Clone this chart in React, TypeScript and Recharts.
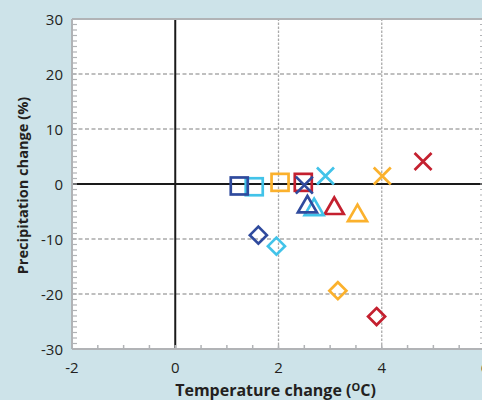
import { ScatterChart, Scatter, XAxis, YAxis, ReferenceArea, ReferenceLine, Label } from "recharts";

// axis ticks
const xMajor = [-2, 0, 2, 4, 6];
const yMajor = [-30, -20, -10, 0, 10, 20, 30];
const xMinor = Array.from({ length: 17 }, (_, i) => -2 + i * 0.5);
const yMinor = Array.from({ length: 61 }, (_, i) => -30 + i);
const xGrid = [2, 4];
const yGrid = [-20, -10, 10, 20];

// temperature change (oC) vs precipitation change (%)
const redPoints = [
  { temp: 2.48, precip: 0.3, kind: "square" },
  { temp: 4.8, precip: 4.1, kind: "cross" },
  { temp: 3.08, precip: -4.0, kind: "triangle" },
  { temp: 3.9, precip: -24.1, kind: "diamond" },
];
const orangePoints = [
  { temp: 2.03, precip: 0.3, kind: "square" },
  { temp: 4.01, precip: 1.45, kind: "cross" },
  { temp: 3.53, precip: -5.3, kind: "triangle" },
  { temp: 3.15, precip: -19.4, kind: "diamond" },
];
const cyanPoints = [
  { temp: 1.53, precip: -0.5, kind: "square" },
  { temp: 2.91, precip: 1.45, kind: "cross" },
  { temp: 2.69, precip: -4.2, kind: "triangle" },
  { temp: 1.96, precip: -11.3, kind: "diamond" },
];
const bluePoints = [
  { temp: 1.24, precip: -0.36, kind: "square" },
  { temp: 2.5, precip: -0.2, kind: "cross" },
  { temp: 2.56, precip: -3.7, kind: "triangle" },
  { temp: 1.61, precip: -9.3, kind: "diamond" },
];

const FONT = "'Open Sans', sans-serif";
const TEXT = "#231f20";
const FRAME = "#b1b3b6";
const GRID = "#aaaaaa";

const marker = (color: string) => (props: any) => {
  const { cx, cy, payload } = props;
  const sw = 2.7;
  if (payload.kind === "square") {
    return <rect x={cx - 8.5} y={cy - 8.5} width={17} height={17} fill="none" stroke={color} strokeWidth={sw} />;
  }
  if (payload.kind === "cross") {
    return (
      <path d={`M${cx - 8.5},${cy - 8.5}L${cx + 8.5},${cy + 8.5}M${cx - 8.5},${cy + 8.5}L${cx + 8.5},${cy - 8.5}`}
        stroke={color} strokeWidth={sw} fill="none" />
    );
  }
  if (payload.kind === "triangle") {
    return (
      <path d={`M${cx},${cy - 8.5}L${cx + 9.5},${cy + 8}L${cx - 9.5},${cy + 8}Z`}
        stroke={color} strokeWidth={sw} fill="none" strokeLinejoin="miter" />
    );
  }
  return (
    <path d={`M${cx},${cy - 8.5}L${cx + 8.5},${cy}L${cx},${cy + 8.5}L${cx - 8.5},${cy}Z`}
      stroke={color} strokeWidth={sw} fill="none" />
  );
};

function BottomTick(props: any) {
  const { x, y, payload } = props;
  const v = payload.value;
  return (
    <g>
      <line x1={x} y1={y} x2={x} y2={y - 4} stroke={FRAME} strokeWidth={1.5} />
      {xMajor.includes(v) && (
        <text x={x} y={y + 24} textAnchor="middle" fontSize={15} fill={TEXT} fontFamily={FONT}>{v}</text>
      )}
    </g>
  );
}

function TopTick(props: any) {
  const { x, y } = props;
  return <line x1={x} y1={y} x2={x} y2={y + 4} stroke={FRAME} strokeWidth={1.5} />;
}

function LeftTick(props: any) {
  const { x, y, payload } = props;
  const v = payload.value;
  return (
    <g>
      <line x1={x} y1={y} x2={x + 5} y2={y} stroke={FRAME} strokeWidth={1.2} />
      {yMajor.includes(v) && (
        <text x={x - 9} y={y + 5.5} textAnchor="end" fontSize={15} fill={TEXT} fontFamily={FONT}>{v}</text>
      )}
    </g>
  );
}

function RightTick(props: any) {
  const { x, y } = props;
  return <line x1={x} y1={y} x2={x - 5} y2={y} stroke={FRAME} strokeWidth={1.2} />;
}

export default function App() {
  return (
    <div style={{ position: "fixed", left: 0, top: 0, width: 482, height: 400, overflow: "hidden", background: "#cde3e9" }}>
      <ScatterChart width={490} height={400} margin={{ top: 0, right: 0, bottom: 0, left: 0 }}>
        <XAxis xAxisId="b" dataKey="temp" type="number" orientation="bottom" domain={[-2, 6]} allowDataOverflow
          ticks={xMinor} interval={0} tickSize={0} tickMargin={0} tickLine={false} height={51}
          axisLine={{ stroke: FRAME, strokeWidth: 2 }} tick={<BottomTick />}>
          <Label content={(p: any) => {
            const vb = p.viewBox;
            return (
              <text x={vb.x + vb.width / 2 - 3} y={vb.y + 47} textAnchor="middle" fontSize={16} fontWeight="bold" fill={TEXT} fontFamily={FONT}>
                Temperature change (<tspan fontSize={11} dy={-5}>O</tspan><tspan dy={5}>C)</tspan>
              </text>
            );
          }} />
        </XAxis>
        <XAxis xAxisId="t" type="number" orientation="top" domain={[-2, 6]} allowDataOverflow
          ticks={xMinor} interval={0} tickSize={0} tickMargin={0} tickLine={false} height={19}
          axisLine={{ stroke: FRAME, strokeWidth: 2 }} tick={<TopTick />} />
        <YAxis yAxisId="l" dataKey="precip" type="number" orientation="left" domain={[-30, 30]} allowDataOverflow
          ticks={yMinor} interval={0} tickSize={0} tickMargin={0} tickLine={false} width={72}
          axisLine={{ stroke: FRAME, strokeWidth: 2 }} tick={<LeftTick />}>
          <Label content={(p: any) => {
            const vb = p.viewBox;
            const cx = vb.x + 27.5;
            const cy = vb.y + vb.height / 2 + 1.5;
            return (
              <text x={cx} y={cy} transform={`rotate(-90 ${cx} ${cy})`} textAnchor="middle" fontSize={14.6} fontWeight="bold" fill={TEXT} fontFamily={FONT}>
                Precipitation change (%)
              </text>
            );
          }} />
        </YAxis>
        <YAxis yAxisId="r" type="number" orientation="right" domain={[-30, 30]} allowDataOverflow
          ticks={yMinor} interval={0} tickSize={0} tickMargin={0} tickLine={false} width={5}
          axisLine={{ stroke: FRAME, strokeWidth: 2 }} tick={<RightTick />} />
        <ReferenceArea xAxisId="b" yAxisId="l" x1={-2} x2={6} y1={-30} y2={30} fill="#ffffff" fillOpacity={1} stroke="none" />
        {xGrid.map((v) => (
          <ReferenceLine key={`gx${v}`} xAxisId="b" yAxisId="l" x={v} stroke={GRID} strokeWidth={1.3} strokeDasharray="2.5 1.5" />
        ))}
        {yGrid.map((v) => (
          <ReferenceLine key={`gy${v}`} xAxisId="b" yAxisId="l" y={v} stroke={GRID} strokeWidth={1.3} strokeDasharray="4 2.5" />
        ))}
        <ReferenceLine xAxisId="b" yAxisId="l" x={0} stroke="#1a1a1a" strokeWidth={2} />
        <ReferenceLine xAxisId="b" yAxisId="l" y={0} stroke="#1a1a1a" strokeWidth={2} />
        <Scatter xAxisId="b" yAxisId="l" data={redPoints} shape={marker("#c4202f")} isAnimationActive={false} />
        <Scatter xAxisId="b" yAxisId="l" data={orangePoints} shape={marker("#fbb12d")} isAnimationActive={false} />
        <Scatter xAxisId="b" yAxisId="l" data={cyanPoints} shape={marker("#42c3e9")} isAnimationActive={false} />
        <Scatter xAxisId="b" yAxisId="l" data={bluePoints} shape={marker("#2f4a9d")} isAnimationActive={false} />
      </ScatterChart>
    </div>
  );
}
